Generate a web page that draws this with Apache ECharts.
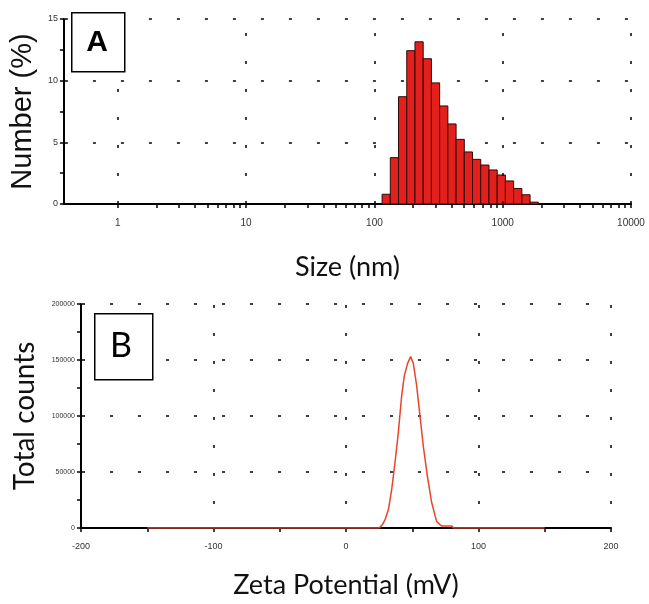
<!DOCTYPE html>
<html>
<head>
<meta charset="utf-8">
<script src="https://cdn.jsdelivr.net/npm/echarts@6/dist/echarts.min.js"></script>
<style>
  html, body { margin: 0; padding: 0; background: #fff; }
  #chart { width: 649px; height: 604px; }
</style>
</head>
<body>
<div id="chart"></div>
<script>
// panel A: size distribution by number, bin edges in nm
const binEdges = [114.8, 133.0, 154.2, 178.7, 207.1, 240.0, 278.2, 322.4, 373.7, 433.1,
  502.0, 581.8, 674.3, 781.5, 905.8, 1049.8, 1216.7, 1410.2, 1634.4, 1894.2];
const numberPct = [0.79, 3.76, 8.70, 12.43, 13.15, 11.78, 9.82, 7.95, 6.49, 5.24,
  4.22, 3.62, 3.16, 2.76, 2.35, 1.87, 1.26, 0.75, 0.15];
const sizeTicks = [1, 2, 3, 4, 5, 6, 7, 8, 9, 10, 20, 30, 40, 50, 60, 70, 80, 90,
  100, 200, 300, 400, 500, 600, 700, 800, 900, 1000, 2000, 3000, 4000, 5000, 6000, 7000, 8000, 9000, 10000];
const sizeGrid = [1, 10, 100, 1000, 10000];

// panel B: zeta potential distribution
const zetaMv = [-150, 25, 27.5, 29.5, 32, 34.5, 37, 39.5, 42, 44, 46.5, 48.8,
  50.8, 53.3, 55.8, 58.3, 61.4, 64.7, 68.4, 72, 80, 81, 150];
const zetaCounts = [0, 0, 3000, 7500, 16500, 34500, 58500, 85400, 118000, 136000, 147000, 153000,
  147000, 127300, 100400, 73400, 46400, 22500, 5900, 1800, 1800, 0, 0];

const barData = numberPct.map((v, i) => [binEdges[i], binEdges[i + 1], v]);
const zetaData = zetaMv.map((v, i) => [v, zetaCounts[i]]);

const plain = (v) => String(v);
const tickFont = { color: "#333", fontSize: 9, fontFamily: "Liberation Sans", formatter: plain };
const gridDash = { color: "#000", width: 1.5, type: [3, 25], dashOffset: 27 };
const tickStyle = { color: "#000", width: 1.5 };

let myChart = echarts.init(document.getElementById("chart"));

let option = {
  animation: false,
  backgroundColor: "#fff",
  grid: [
    { left: 62, top: 19, width: 569, height: 185 },
    { left: 81, top: 304, width: 530, height: 224 },
  ],
  xAxis: [
    {
      gridIndex: 0,
      type: "log",
      min: 0.38,
      max: 10000,
      name: "Size (nm)",
      nameLocation: "middle",
      nameGap: 50,
      nameTextStyle: { fontFamily: "Lato", fontSize: 27, color: "#111" },
      axisLine: { lineStyle: { color: "#000", width: 2 } },
      axisTick: { show: true, length: 4, customValues: sizeTicks, lineStyle: tickStyle },
      axisLabel: { ...tickFont, fontSize: 10, margin: 14, customValues: sizeGrid },
      splitLine: { show: false },
    },
    {
      gridIndex: 1,
      type: "value",
      min: -200,
      max: 200,
      interval: 100,
      name: "Zeta Potential (mV)",
      nameLocation: "middle",
      nameGap: 44,
      nameTextStyle: { fontFamily: "Lato", fontSize: 27, color: "#111" },
      axisLine: { lineStyle: { color: "#000", width: 2 } },
      axisTick: { length: 4, lineStyle: tickStyle },
      minorTick: { show: true, splitNumber: 2, length: 4, lineStyle: tickStyle },
      axisLabel: { ...tickFont, margin: 14 },
      splitLine: { show: true, lineStyle: gridDash },
    },
  ],
  yAxis: [
    {
      gridIndex: 0,
      type: "value",
      min: 0,
      max: 15,
      interval: 5,
      name: "Number (%)",
      nameLocation: "middle",
      nameGap: 26,
      nameTextStyle: { fontFamily: "Liberation Sans", fontSize: 29, color: "#111" },
      axisLine: { show: true, onZero: false, lineStyle: { color: "#000", width: 2 } },
      axisTick: { show: true, length: 4, lineStyle: tickStyle },
      minorTick: { show: true, splitNumber: 2, length: 4, lineStyle: tickStyle },
      axisLabel: { ...tickFont, margin: 6 },
      splitLine: { show: true, lineStyle: gridDash },
    },
    {
      gridIndex: 1,
      type: "value",
      min: 0,
      max: 200000,
      interval: 50000,
      name: "Total counts",
      nameLocation: "middle",
      nameGap: 42,
      nameTextStyle: { fontFamily: "Lato", fontSize: 28, color: "#111" },
      axisLine: { show: true, onZero: false, lineStyle: { color: "#000", width: 2 } },
      axisTick: { show: true, length: 4, lineStyle: tickStyle },
      minorTick: { show: true, splitNumber: 2, length: 4, lineStyle: tickStyle },
      axisLabel: { ...tickFont, fontSize: 7, margin: 6 },
      splitLine: { show: true, lineStyle: gridDash },
    },
  ],
  graphic: [
    { type: "rect", left: 71, top: 12, shape: { width: 53, height: 59 }, style: { fill: "#fff", stroke: "#000", lineWidth: 1.5 }, z: 100 },
    { type: "text", x: 97, y: 43, style: { text: "A", font: "bold 30px 'Liberation Sans'", fill: "#000", align: "center", verticalAlign: "middle" }, z: 101 },
    { type: "rect", left: 94, top: 313, shape: { width: 58, height: 66 }, style: { fill: "#fff", stroke: "#000", lineWidth: 1.5 }, z: 100 },
    { type: "text", x: 121, y: 346, style: { text: "B", font: "34px Lato", fill: "#000", align: "center", verticalAlign: "middle" }, z: 101 },
  ],
  series: [
    {
      type: "custom",
      xAxisIndex: 0,
      yAxisIndex: 0,
      data: barData,
      encode: { x: [0, 1], y: 2 },
      renderItem: function (params, api) {
        const p0 = api.coord([api.value(0), 0]);
        const p1 = api.coord([api.value(1), api.value(2)]);
        return {
          type: "rect",
          shape: { x: p0[0], y: p1[1], width: p1[0] - p0[0], height: p0[1] - p1[1] },
          style: { fill: "#e3201c", stroke: "#2b0a08", lineWidth: 1 },
        };
      },
      markLine: {
        silent: true,
        symbol: "none",
        label: { show: false },
        lineStyle: { color: "#000", width: 1.5, type: [3, 25] },
        data: sizeGrid.map((v) => ({ xAxis: v })),
      },
    },
    {
      type: "line",
      xAxisIndex: 1,
      yAxisIndex: 1,
      data: zetaData,
      symbol: "none",
      lineStyle: { color: "#e8452c", width: 1.5 },
    },
  ],
};

myChart.setOption(option);
</script>
</body>
</html>
